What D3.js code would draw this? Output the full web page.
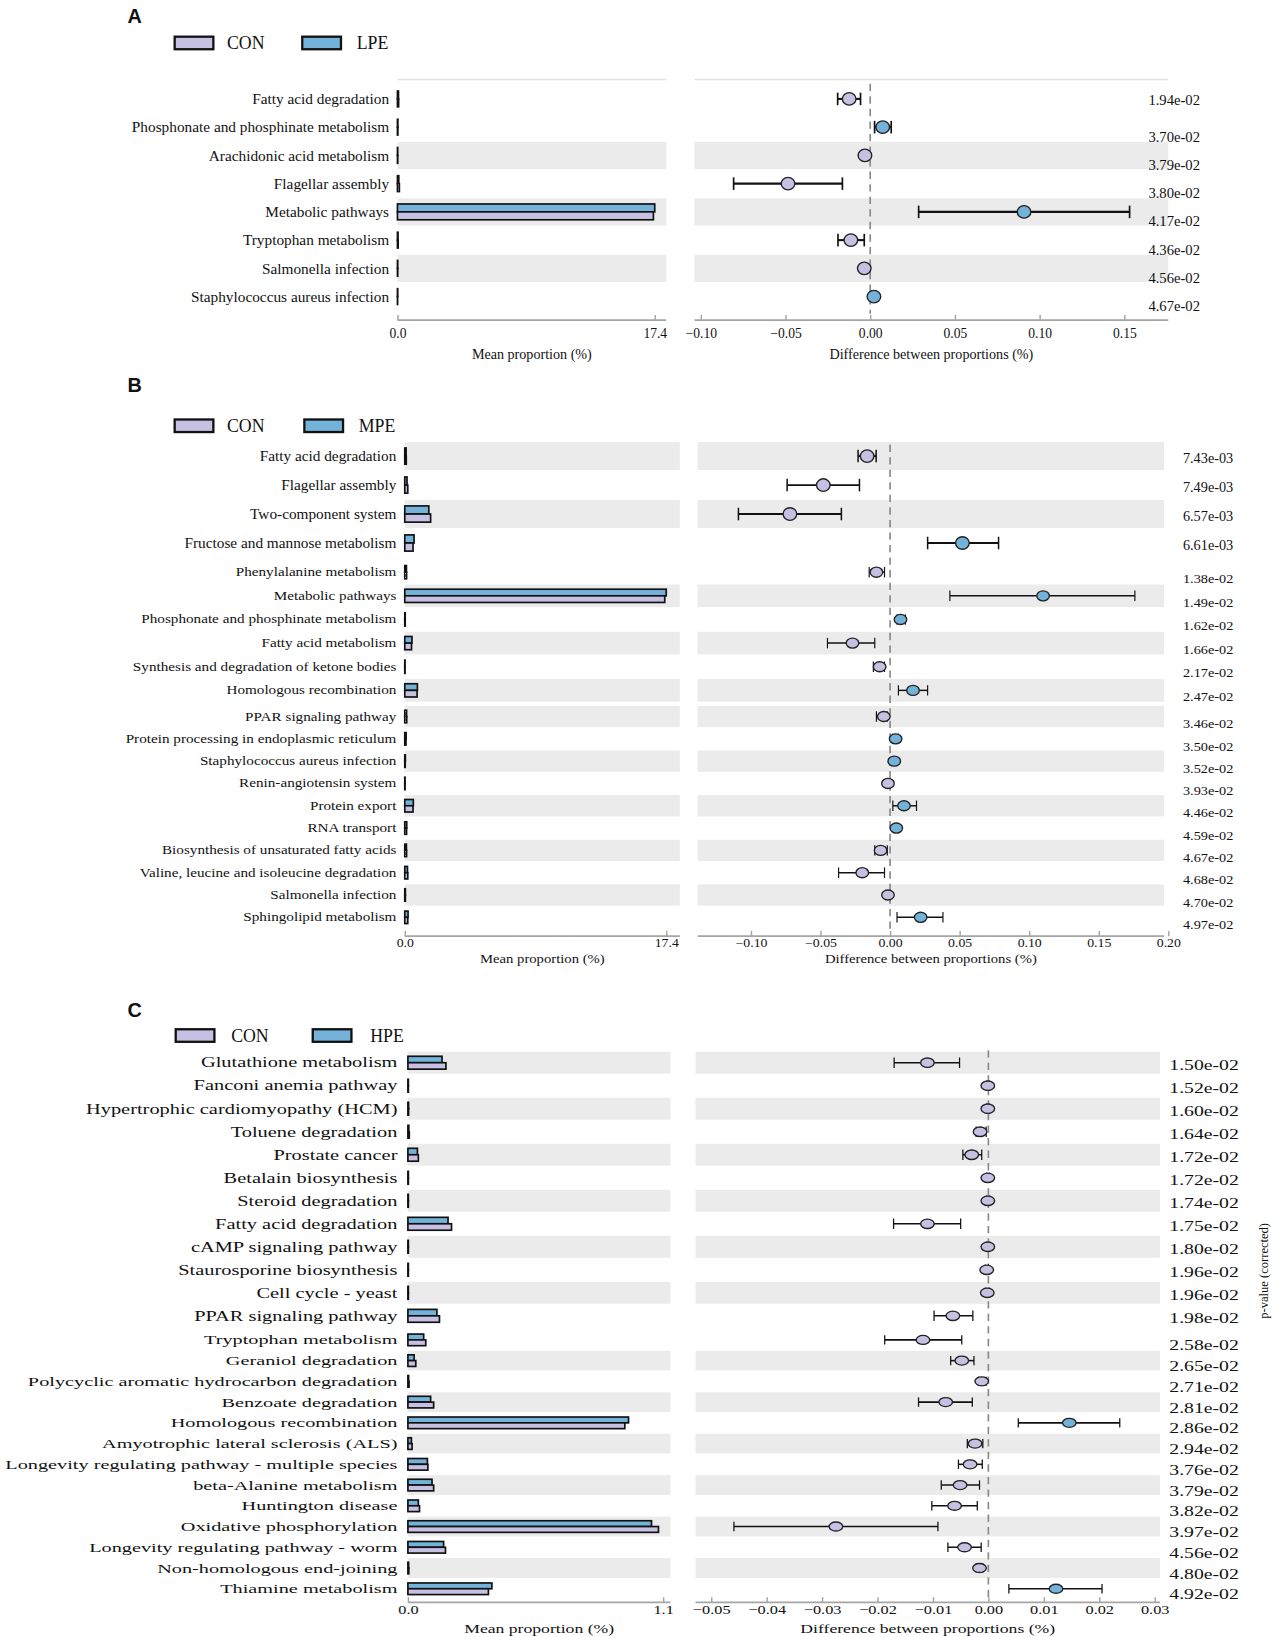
<!DOCTYPE html>
<html>
<head>
<meta charset="utf-8">
<script src="https://cdn.jsdelivr.net/npm/d3@7"></script>
<style>
  body { margin: 0; background: #fff; }
</style>
</head>
<body>
<script>
// ---- data (A: CON vs LPE) ----
var namesA = ["Fatty acid degradation", "Phosphonate and phosphinate metabolism", "Arachidonic acid metabolism",
  "Flagellar assembly", "Metabolic pathways", "Tryptophan metabolism", "Salmonella infection",
  "Staphylococcus aureus infection"];
var pA = ["1.94e-02", "3.70e-02", "3.79e-02", "3.80e-02", "4.17e-02", "4.36e-02", "4.56e-02", "4.67e-02"];
var conA = [0.08, 0.03, 0.02, 0.13, 17.31, 0.05, 0.02, 0.01];
var lpeA = [0.07, 0.03, 0.02, 0.09, 17.40, 0.04, 0.02, 0.02];
var diffA = [-0.0124, 0.0074, -0.0031, -0.0485, 0.0908, -0.0114, -0.0035, 0.0022];
var loA = [-0.0192, 0.0026, -0.0045, -0.0806, 0.0286, -0.0190, -0.0048, 0.0010];
var hiA = [-0.0057, 0.0124, -0.0017, -0.0164, 0.1531, -0.0035, -0.0022, 0.0034];
var ticksA = [-0.10, -0.05, 0.00, 0.05, 0.10, 0.15];

// ---- data (B: CON vs MPE) ----
var namesB = ["Fatty acid degradation", "Flagellar assembly", "Two-component system",
  "Fructose and mannose metabolism", "Phenylalanine metabolism", "Metabolic pathways",
  "Phosphonate and phosphinate metabolism", "Fatty acid metabolism",
  "Synthesis and degradation of ketone bodies", "Homologous recombination", "PPAR signaling pathway",
  "Protein processing in endoplasmic reticulum", "Staphylococcus aureus infection",
  "Renin-angiotensin system", "Protein export", "RNA transport", "Biosynthesis of unsaturated fatty acids",
  "Valine, leucine and isoleucine degradation", "Salmonella infection", "Sphingolipid metabolism"];
var pB = ["7.43e-03", "7.49e-03", "6.57e-03", "6.61e-03", "1.38e-02", "1.49e-02", "1.62e-02", "1.66e-02",
  "2.17e-02", "2.47e-02", "3.46e-02", "3.50e-02", "3.52e-02", "3.93e-02", "4.46e-02", "4.59e-02",
  "4.67e-02", "4.68e-02", "4.70e-02", "4.97e-02"];
var conB = [0.10, 0.20, 1.72, 0.55, 0.12, 17.30, 0.03, 0.45, 0.02, 0.82, 0.13, 0.08, 0.03, 0.02, 0.55, 0.12, 0.12, 0.20, 0.04, 0.20];
var mpeB = [0.09, 0.15, 1.60, 0.62, 0.11, 17.40, 0.03, 0.48, 0.02, 0.84, 0.12, 0.09, 0.04, 0.02, 0.57, 0.13, 0.11, 0.18, 0.04, 0.22];
var diffB = [-0.0165, -0.048, -0.072, 0.052, -0.0098, 0.110, 0.0075, -0.027, -0.0075, 0.0165, -0.0045, 0.004,
  0.003, -0.0015, 0.010, 0.0045, -0.0068, -0.020, -0.0015, 0.022];
var loB = [-0.023, -0.074, -0.109, 0.027, -0.015, 0.043, 0.005, -0.045, -0.012, 0.006, -0.0098, 0.002,
  0.0015, -0.003, 0.002, 0.003, -0.011, -0.037, -0.003, 0.005];
var hiB = [-0.010, -0.022, -0.035, 0.078, -0.004, 0.176, 0.011, -0.011, -0.004, 0.027, -0.002, 0.006,
  0.0045, 0.000, 0.019, 0.006, -0.002, -0.004, 0.000, 0.038];
var ticksB = [-0.10, -0.05, 0.00, 0.05, 0.10, 0.15, 0.20];

// ---- data (C: CON vs HPE) ----
var namesC = ["Glutathione metabolism", "Fanconi anemia pathway", "Hypertrophic cardiomyopathy (HCM)",
  "Toluene degradation", "Prostate cancer", "Betalain biosynthesis", "Steroid degradation",
  "Fatty acid degradation", "cAMP signaling pathway", "Staurosporine biosynthesis", "Cell cycle - yeast",
  "PPAR signaling pathway", "Tryptophan metabolism", "Geraniol degradation",
  "Polycyclic aromatic hydrocarbon degradation", "Benzoate degradation", "Homologous recombination",
  "Amyotrophic lateral sclerosis (ALS)", "Longevity regulating pathway - multiple species",
  "beta-Alanine metabolism", "Huntington disease", "Oxidative phosphorylation",
  "Longevity regulating pathway - worm", "Non-homologous end-joining", "Thiamine metabolism"];
var pC = ["1.50e-02", "1.52e-02", "1.60e-02", "1.64e-02", "1.72e-02", "1.72e-02", "1.74e-02", "1.75e-02",
  "1.80e-02", "1.96e-02", "1.96e-02", "1.98e-02", "2.58e-02", "2.65e-02", "2.71e-02", "2.81e-02",
  "2.86e-02", "2.94e-02", "3.76e-02", "3.79e-02", "3.82e-02", "3.97e-02", "4.56e-02", "4.80e-02", "4.92e-02"];
var conC = [0.164, 0.002, 0.003, 0.006, 0.045, 0.002, 0.002, 0.188, 0.002, 0.002, 0.002, 0.136, 0.077,
  0.034, 0.005, 0.111, 0.935, 0.018, 0.086, 0.111, 0.050, 1.080, 0.162, 0.004, 0.347];
var hpeC = [0.147, 0.002, 0.003, 0.004, 0.041, 0.002, 0.002, 0.173, 0.002, 0.002, 0.002, 0.125, 0.068,
  0.027, 0.003, 0.098, 0.951, 0.015, 0.084, 0.104, 0.045, 1.050, 0.154, 0.003, 0.362];
var diffC = [-0.0110, -0.0001, -0.0001, -0.0015, -0.0030, -0.0001, -0.0001, -0.0110, -0.0001, -0.0003, -0.0002,
  -0.0064, -0.0118, -0.0048, -0.0012, -0.0077, 0.0146, -0.0024, -0.0033, -0.0051, -0.0061, -0.0275,
  -0.0043, -0.0016, 0.0122];
var loC = [-0.0170, -0.0003, -0.0003, -0.0022, -0.0046, -0.0003, -0.0003, -0.0171, -0.0003, -0.0006, -0.0005,
  -0.0098, -0.0187, -0.0068, -0.0018, -0.0126, 0.0054, -0.0038, -0.0054, -0.0085, -0.0102, -0.0459,
  -0.0073, -0.0022, 0.0037];
var hiC = [-0.0052, 0.0002, 0.0002, -0.0004, -0.0012, 0.0002, 0.0002, -0.0050, 0.0002, 0.0000, 0.0001,
  -0.0028, -0.0048, -0.0026, -0.0004, -0.0029, 0.0237, -0.0010, -0.0011, -0.0016, -0.0020, -0.0091,
  -0.0013, -0.0010, 0.0205];
var ticksC = [-0.05, -0.04, -0.03, -0.02, -0.01, 0.00, 0.01, 0.02, 0.03];

var SERIF = "'Liberation Serif','Times New Roman',serif";
var SANS = "'Liberation Sans',Arial,sans-serif";
var CON_FILL = "#c6c1e3", TRT_FILL = "#73b3d9", STRIPE = "#ebebeb";

// layout of each panel (the figure is a stack of STAMP plots with uneven row blocks)
var panels = [
  {
    tag: "A", tagY: 22, trtName: "LPE", legY: 41, legX: [167, 289], legTextX: [217, 341],
    names: namesA, p: pA, con: conA, trt: lpeA, diff: diffA, lo: loA, hi: hiA, ticks: ticksA,
    barMax: 17.4, barX: [380, 626], barRight: 637, diffRef: [0, 0.05], diffPx: [832, 913],
    diffLeft: 664, diffRight: 1117, labelX: 372, pX: 1098,
    axisY: 306, tickPad: 8, tickSize: 13, tickSx: 1, titleY: 343, titleSize: 13.5, titleSx: 1,
    dash: [80, 300], topLine: 76, stripes: [2, 4, 6],
    segs: [
      { n: 1, y0: 94.5, rowH: 27, size: 14.5, sx: 1.01, pOff: 1, pSize: 14, pSx: 1, rx: 6.5, ry: 6, cap: 6, ew: 2 },
      { n: 7, y0: 121.5, rowH: 27, size: 14.5, sx: 1.01, pOff: 9, pSize: 14, pSx: 1, rx: 6.5, ry: 6, cap: 6, ew: 2 }
    ]
  },
  {
    tag: "B", tagY: 375, trtName: "MPE", legY: 407, legX: [167, 291], legTextX: [217, 343],
    names: namesB, p: pB, con: conB, trt: mpeB, diff: diffB, lo: loB, hi: hiB, ticks: ticksB,
    barMax: 17.4, barX: [387, 637], barRight: 650, diffRef: [0, 0.05], diffPx: [851, 917.5],
    diffLeft: 667, diffRight: 1113, labelX: 379, pX: 1131,
    axisY: 895, tickPad: 3, tickSize: 11, tickSx: 1.2, titleY: 921, titleSize: 11.5, titleSx: 1.22,
    dash: [425, 893], topLine: null, stripes: [0, 2, 5, 7, 9, 10, 12, 14, 16, 18],
    segs: [
      { n: 4, y0: 436, rowH: 27.7, size: 13, sx: 1.125, pOff: 2.5, pSize: 13, pSx: 1.05, rx: 6.5, ry: 6, cap: 6, ew: 1.8 },
      { n: 6, y0: 547, rowH: 22.6, size: 11, sx: 1.32, pOff: 6, pSize: 12, pSx: 1.14, rx: 6, ry: 4.8, cap: 5, ew: 1.4 },
      { n: 10, y0: 685, rowH: 21.33, size: 11, sx: 1.32, pOff: 7, pSize: 12, pSx: 1.14, rx: 6, ry: 4.8, cap: 5, ew: 1.4 }
    ]
  },
  {
    tag: "C", tagY: 972, trtName: "HPE", legY: 990, legX: [168, 299], legTextX: [221, 354],
    names: namesC, p: pC, con: conC, trt: hpeC, diff: diffC, lo: loC, hi: hiC, ticks: ticksC,
    barMax: 1.1, barX: [390, 634], barRight: 641, diffRef: [0, 0.01], diffPx: [945, 998],
    diffLeft: 665, diffRight: 1109, labelX: 380, pX: 1118,
    axisY: 1532, tickPad: 3, tickSize: 12, tickSx: 1.3, titleY: 1561, titleSize: 12.5, titleSx: 1.35,
    dash: [1004, 1530], topLine: null, stripes: [0, 2, 4, 6, 8, 10, 13, 15, 17, 19, 21, 23],
    segs: [
      { n: 12, y0: 1016, rowH: 22, size: 13, sx: 1.5, pOff: 2.5, pSize: 13, pSx: 1.45, rx: 6.5, ry: 4.5, cap: 5, ew: 1.5 },
      { n: 13, y0: 1281, rowH: 19.83, size: 12.5, sx: 1.55, pOff: 5.5, pSize: 13, pSx: 1.45, rx: 6.5, ry: 4.3, cap: 4.5, ew: 1.5 }
    ]
  }
];

var svg = d3.select("body").append("svg")
  .attr("width", 1276).attr("height", 1637)
  .attr("viewBox", "0 0 1220 1565");

function txt(g, x, y, s, size, sx, anchor, family) {
  return g.append("text")
    .attr("transform", "translate(" + x + "," + y + ") scale(" + sx + ",1)")
    .attr("text-anchor", anchor || "start")
    .attr("font-family", family || SERIF)
    .attr("font-size", size)
    .attr("fill", "#111")
    .text(s);
}

function drawPanel(P) {
  var g = svg.append("g");
  var xBar = d3.scaleLinear().domain([0, P.barMax]).range(P.barX);
  var xDiff = d3.scaleLinear().domain(P.diffRef).range(P.diffPx);

  // rows, one point scale per block of rows
  var rows = [];
  var start = 0;
  P.segs.forEach(function (s) {
    var idx = d3.range(start, start + s.n);
    var y = d3.scalePoint().domain(idx).range([s.y0, s.y0 + (s.n - 1) * s.rowH]);
    idx.forEach(function (i) { rows.push({ i: i, y: y(i), seg: s }); });
    start += s.n;
  });

  // panel tag + legend
  txt(g, 122, P.tagY, P.tag, 20, 0.95, "start", SANS).attr("font-weight", "bold");
  [[CON_FILL, "CON"], [TRT_FILL, P.trtName]].forEach(function (d, k) {
    g.append("rect").attr("x", P.legX[k]).attr("y", P.legY - 6).attr("width", 37).attr("height", 12)
      .attr("fill", d[0]).attr("stroke", "#111").attr("stroke-width", 2.2);
    txt(g, P.legTextX[k], P.legY + 6, d[1], 17, 1);
  });

  // stripes
  var striped = rows.filter(function (r) { return P.stripes.indexOf(r.i) >= 0; });
  [[P.barX[0], P.barRight], [P.diffLeft, P.diffRight]].forEach(function (ext) {
    g.selectAll(null).data(striped).join("rect")
      .attr("x", ext[0]).attr("width", ext[1] - ext[0])
      .attr("y", function (r) { return r.y - r.seg.rowH / 2 + 0.5; })
      .attr("height", function (r) { return r.seg.rowH - 1; })
      .attr("fill", STRIPE);
  });
  if (P.topLine) {
    [[P.barX[0], P.barRight], [P.diffLeft, P.diffRight]].forEach(function (ext) {
      g.append("line").attr("x1", ext[0]).attr("x2", ext[1]).attr("y1", P.topLine).attr("y2", P.topLine)
        .attr("stroke", "#e2e2e2").attr("stroke-width", 1.5);
    });
  }

  // row labels and p-values
  rows.forEach(function (r) {
    txt(g, P.labelX, r.y, P.names[r.i], r.seg.size, r.seg.sx, "end").attr("dy", "0.35em");
    txt(g, P.pX, r.y + r.seg.pOff, P.p[r.i], r.seg.pSize, r.seg.pSx).attr("dy", "0.35em");
  });

  // bars: treatment on top, CON below
  rows.forEach(function (r) {
    var h = r.seg.rowH * 0.28;
    g.append("rect").attr("x", xBar(0)).attr("y", r.y - h)
      .attr("width", xBar(P.trt[r.i]) - xBar(0)).attr("height", h)
      .attr("fill", TRT_FILL).attr("stroke", "#111").attr("stroke-width", 1.6);
    g.append("rect").attr("x", xBar(0)).attr("y", r.y)
      .attr("width", xBar(P.con[r.i]) - xBar(0)).attr("height", h)
      .attr("fill", CON_FILL).attr("stroke", "#111").attr("stroke-width", 1.6);
  });

  // zero line
  g.append("line").attr("x1", xDiff(0)).attr("x2", xDiff(0)).attr("y1", P.dash[0]).attr("y2", P.dash[1])
    .attr("stroke", "#8a8a8a").attr("stroke-width", 1.6).attr("stroke-dasharray", "7,5");

  // error bars and points
  rows.forEach(function (r) {
    var s = r.seg, i = r.i;
    var x1 = xDiff(P.lo[i]), x2 = xDiff(P.hi[i]);
    g.append("line").attr("x1", x1).attr("x2", x2).attr("y1", r.y).attr("y2", r.y)
      .attr("stroke", "#111").attr("stroke-width", s.ew);
    [x1, x2].forEach(function (x) {
      g.append("line").attr("x1", x).attr("x2", x).attr("y1", r.y - s.cap).attr("y2", r.y + s.cap)
        .attr("stroke", "#111").attr("stroke-width", s.ew * 0.8);
    });
    g.append("ellipse").attr("cx", xDiff(P.diff[i])).attr("cy", r.y).attr("rx", s.rx).attr("ry", s.ry)
      .attr("fill", P.diff[i] > 0 ? TRT_FILL : CON_FILL).attr("stroke", "#222").attr("stroke-width", 1.3);
  });

  // axes
  [[xBar, [0, P.barMax], d3.format(".1f"), P.barX[0], P.barRight, "Mean proportion (%)"],
   [xDiff, P.ticks, d3.format(".2f"), P.diffLeft, P.diffRight, "Difference between proportions (%)"]]
    .forEach(function (a) {
      g.append("line").attr("x1", a[3]).attr("x2", a[4]).attr("y1", P.axisY).attr("y2", P.axisY)
        .attr("stroke", "#a5a5a5").attr("stroke-width", 1.6);
      var axis = d3.axisBottom(a[0]).tickValues(a[1]).tickFormat(a[2]).tickSize(-5).tickPadding(P.tickPad);
      var ag = g.append("g").attr("transform", "translate(0," + P.axisY + ")").call(axis);
      ag.select(".domain").remove();
      ag.selectAll(".tick line").attr("stroke", "#a5a5a5").attr("stroke-width", 1.4);
      ag.selectAll(".tick text").attr("font-family", SERIF).attr("font-size", P.tickSize)
        .attr("fill", "#111").attr("transform", "scale(" + P.tickSx + ",1)");
      txt(g, (a[3] + a[4]) / 2, P.titleY, a[5], P.titleSize, P.titleSx, "middle");
    });
}

panels.forEach(drawPanel);

// side label of the p-value column
svg.append("text").attr("transform", "translate(1212,1215) rotate(-90)")
  .attr("text-anchor", "middle").attr("font-family", SERIF).attr("font-size", 12)
  .attr("fill", "#111").text("p-value (corrected)");
</script>
</body>
</html>
